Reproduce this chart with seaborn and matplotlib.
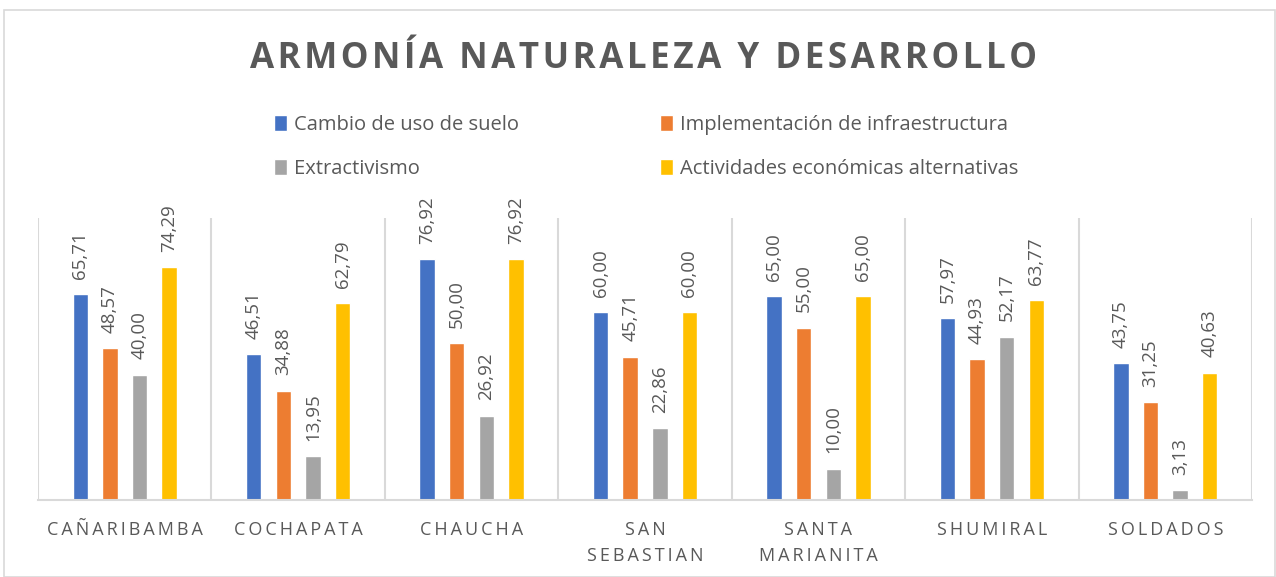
import numpy as np
import pandas as pd
import matplotlib
matplotlib.use("Agg")
import matplotlib.pyplot as plt
import seaborn as sns
from matplotlib.patches import Rectangle

categories = ["CAÑARIBAMBA", "COCHAPATA", "CHAUCHA", "SAN\nSEBASTIAN",
              "SANTA\nMARIANITA", "SHUMIRAL", "SOLDADOS"]
series_names = ["Cambio de uso de suelo", "Implementación de infraestructura",
                "Extractivismo", "Actividades económicas alternativas"]
cambio = [65.71, 46.51, 76.92, 60.00, 65.00, 57.97, 43.75]
infra = [48.57, 34.88, 50.00, 45.71, 55.00, 44.93, 31.25]
extract = [40.00, 13.95, 26.92, 22.86, 10.00, 52.17, 3.13]
activ = [74.29, 62.79, 76.92, 60.00, 65.00, 63.77, 40.63]
title = "ARMONÍA NATURALEZA Y DESARROLLO"
colors = ["#4472C4", "#ED7D31", "#A5A5A5", "#FFC000"]

sns.set_theme(style="white")
FAM = ["Open Sans", "DejaVu Sans"]
plt.rcParams["font.family"] = FAM
TXT = "#595959"
GRID = "#D9D9D9"


def spaced(s, sp="\u2009"):
    return "\n".join(sp.join(list(line)) for line in s.split("\n"))


rows = []
for name, vals in zip(series_names, [cambio, infra, extract, activ]):
    for c, v in zip(categories, vals):
        rows.append({"cat": c, "serie": name, "val": v})
df = pd.DataFrame(rows)

fig = plt.figure(figsize=(12.76, 5.77), dpi=100)
ax = fig.add_axes([38 / 1276, 1 - 500 / 577, (1252 - 38) / 1276, (500 - 218) / 577])

sns.barplot(data=df, x="cat", y="val", hue="serie", order=categories,
            hue_order=series_names, palette=colors, width=0.683, gap=0.48,
            saturation=1, ax=ax, errorbar=None, legend=True)

for cont in ax.containers:
    labels = [f"{b.get_height():.2f}".replace(".", ",") for b in cont]
    ax.bar_label(cont, labels=labels, rotation=90, padding=11,
                 color=TXT, fontsize=13.5)

ax.set_ylim(0, 90)
ax.set_xlim(-0.5, 6.5)
ax.set_yticks([])
ax.set_xticks(range(len(categories)))
ax.set_xticklabels([spaced(c) for c in categories], color=TXT, fontsize=13,
                   linespacing=1.55)
ax.tick_params(axis="x", length=0, pad=15)
ax.set_xticks(np.arange(-0.5, 7, 1), minor=True)
ax.tick_params(axis="x", which="minor", length=0)
ax.grid(which="minor", axis="x", color=GRID, linewidth=1.5)
ax.grid(which="major", axis="x", visible=False)
ax.set_xlabel("")
ax.set_ylabel("")
for s in ["top", "left", "right"]:
    ax.spines[s].set_visible(False)
ax.spines["bottom"].set_color(GRID)
ax.spines["bottom"].set_linewidth(1.5)

handles, labs = ax.get_legend_handles_labels()
ax.get_legend().remove()
order = [0, 2, 1, 3]
fig.legend([handles[i] for i in order], [labs[i] for i in order], ncol=2,
           loc="center", bbox_to_anchor=(646 / 1276, 1 - 147 / 577),
           frameon=False, fontsize=14.5, labelcolor=TXT, handlelength=0.65,
           handleheight=0.85, handletextpad=0.35, columnspacing=7.0,
           labelspacing=1.15)

fig.text(643.5 / 1276, 1 - 59 / 577, spaced(title, "\u200a"), ha="center",
         va="center", fontsize=25.2, fontweight="bold", color=TXT)

fig.patches.append(Rectangle((4 / 1276, 0), 1 - 5 / 1276, 1 - 10 / 577,
                             transform=fig.transFigure, fill=False,
                             edgecolor=GRID, linewidth=1.2))

fig.savefig("out.png", dpi=100)
